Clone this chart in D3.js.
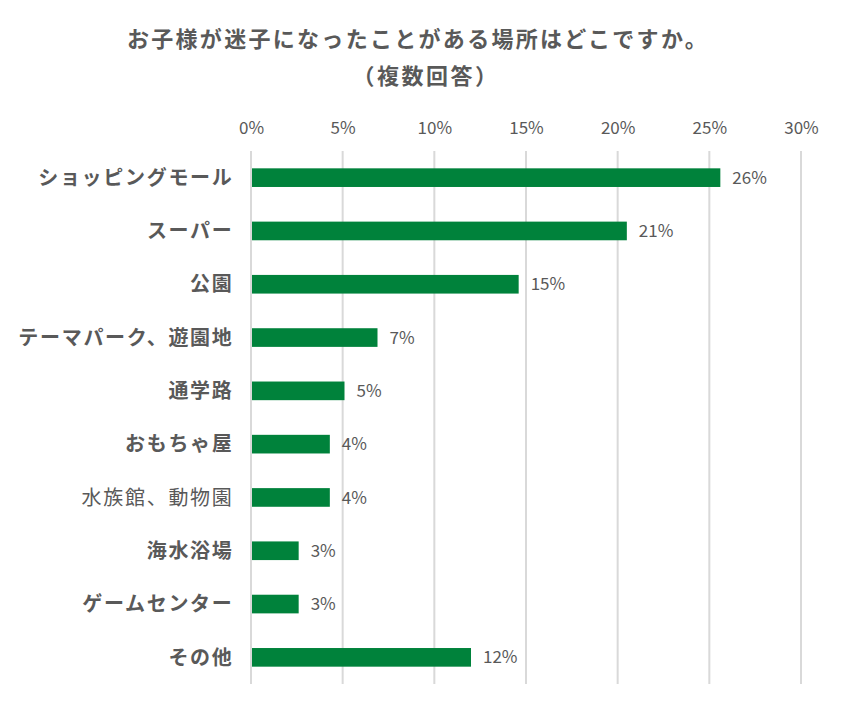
<!DOCTYPE html>
<html>
<head>
<meta charset="utf-8">
<script src="https://cdn.jsdelivr.net/npm/d3@7"></script>
<style>
  body { margin: 0; background: #fff; }
  text { font-family: "Noto Sans CJK JP", "Noto Sans", sans-serif; fill: #595959; }
</style>
</head>
<body>
<div id="chart"></div>
<script>
const width = 843;
const height = 707;

// Data
const places = ['ショッピングモール', 'スーパー', '公園', 'テーマパーク、遊園地', '通学路',
  'おもちゃ屋', '水族館、動物園', '海水浴場', 'ゲームセンター', 'その他'];
const shares = [0.256, 0.205, 0.146, 0.069, 0.051, 0.043, 0.043, 0.026, 0.026, 0.120];
const tickValues = [0, 0.05, 0.10, 0.15, 0.20, 0.25, 0.30];
const titleLines = ['お子様が迷子になったことがある場所はどこですか。', '（複数回答）'];

const plot = {left: 251, right: 801, top: 151, bottom: 684};

const svg = d3.select('#chart')
  .append('svg')
  .attr('width', width)
  .attr('height', height);

// Scales
const x = d3.scaleLinear().domain([0, 0.30]).range([plot.left, plot.right]);
const y = d3.scaleBand().domain(places).range([plot.top, plot.bottom]).paddingInner(0.65).paddingOuter(0.325);

// Title
svg.selectAll('.title')
  .data(titleLines)
  .enter()
  .append('text')
  .attr('class', 'title')
  .attr('x', (d, i) => i === 0 ? 418 : 426)
  .attr('y', (d, i) => 47 + i * 37)
  .attr('text-anchor', 'middle')
  .attr('font-size', 22)
  .attr('font-weight', 'bold')
  .attr('letter-spacing', (d, i) => i === 0 ? 2.3 : 2.5)
  .text(d => d);

// Vertical grid lines
svg.append('g')
  .selectAll('line')
  .data(tickValues)
  .enter()
  .append('line')
  .attr('x1', d => x(d))
  .attr('x2', d => x(d))
  .attr('y1', plot.top)
  .attr('y2', plot.bottom)
  .attr('stroke', '#d9d9d9')
  .attr('stroke-width', 2);

// Top axis labels
const xaxis = d3.axisTop(x)
  .tickValues(tickValues)
  .tickFormat(d3.format('.0%'))
  .tickSize(0)
  .tickPadding(0);

const axisG = svg.append('g')
  .attr('transform', 'translate(0, 134)')
  .call(xaxis);
axisG.select('.domain').remove();
axisG.selectAll('text')
  .attr('font-size', 17)
  .attr('fill', '#595959')
  .style('font-family', '"Noto Sans CJK JP", sans-serif');

// Bars
svg.selectAll('.bar')
  .data(places)
  .enter()
  .append('rect')
  .attr('class', 'bar')
  .attr('x', x(0) + 1)
  .attr('y', d => y(d))
  .attr('width', (d, i) => x(shares[i]) - x(0) - 1)
  .attr('height', y.bandwidth())
  .attr('fill', '#00823b');

// Value labels
svg.selectAll('.value')
  .data(places)
  .enter()
  .append('text')
  .attr('class', 'value')
  .attr('x', (d, i) => x(shares[i]) + 12)
  .attr('y', d => y(d) + y.bandwidth() / 2)
  .attr('dy', '0.36em')
  .attr('font-size', 17)
  .text((d, i) => Math.round(shares[i] * 100) + '%');

// Category labels
svg.selectAll('.cat')
  .data(places)
  .enter()
  .append('text')
  .attr('class', 'cat')
  .attr('x', 233.5)
  .attr('y', d => y(d) + y.bandwidth() / 2)
  .attr('dy', '0.36em')
  .attr('text-anchor', 'end')
  .attr('font-size', 20)
  .attr('letter-spacing', 1.7)
  .attr('font-weight', d => d === '水族館、動物園' ? 'normal' : 'bold')
  .text(d => d);
</script>
</body>
</html>
